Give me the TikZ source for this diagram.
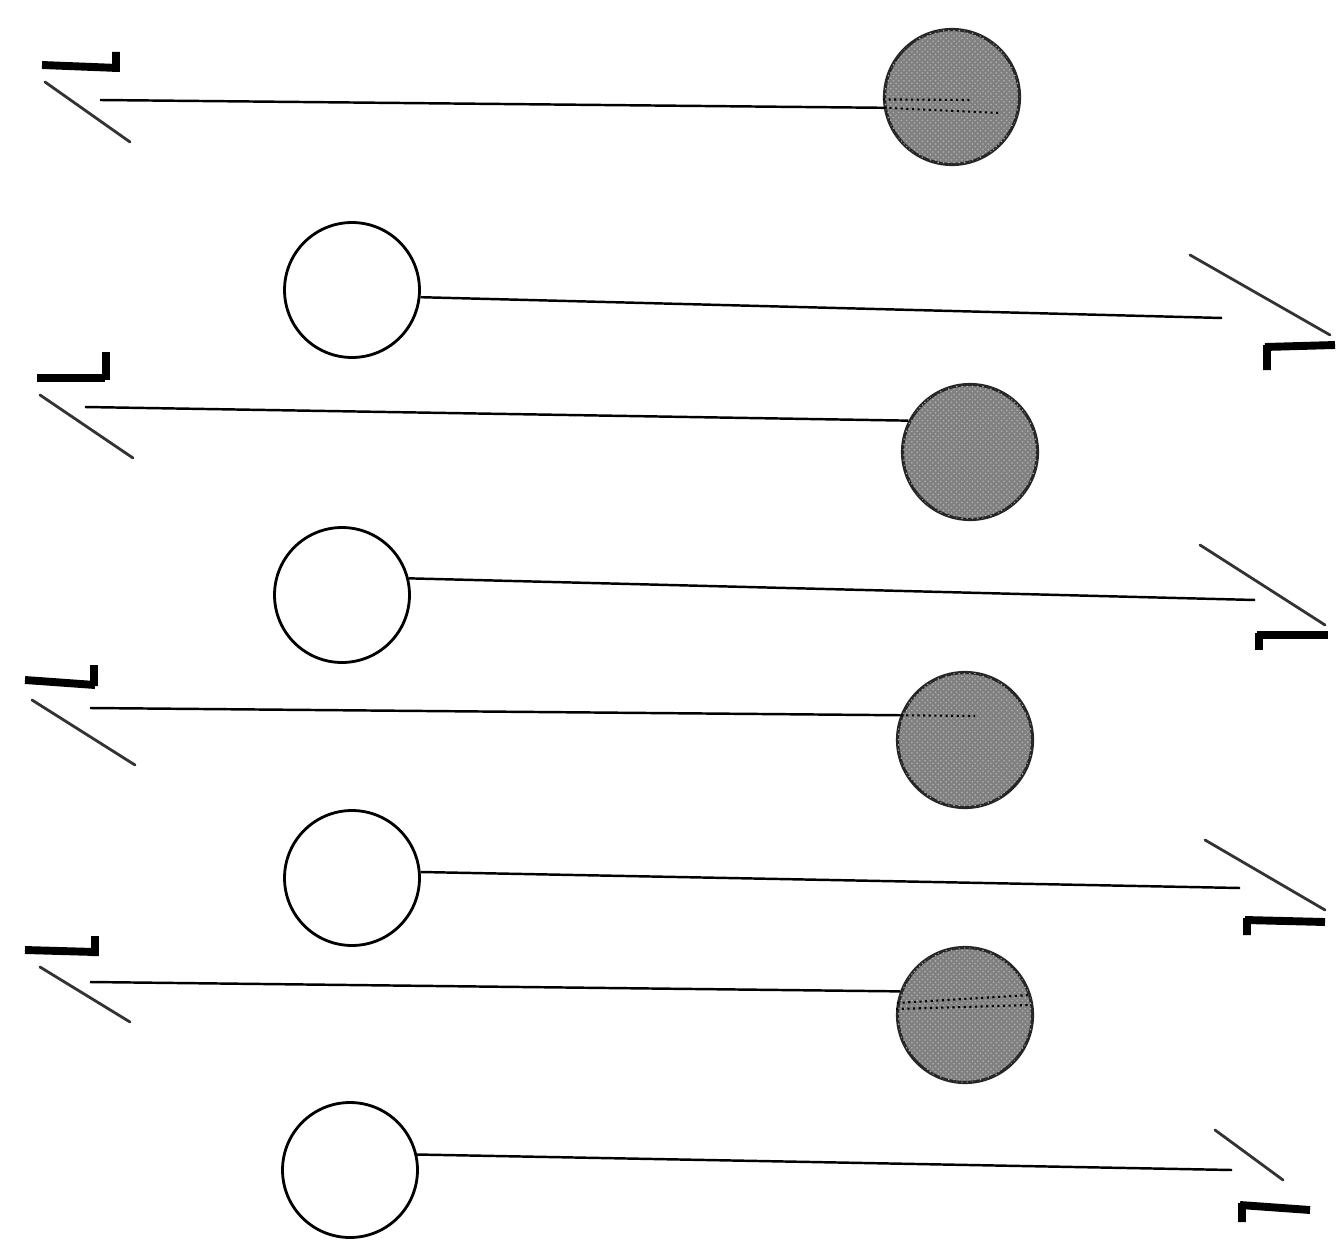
\documentclass[tikz,border=0pt]{standalone}
\usetikzlibrary{patterns}
\begin{document}
\begin{tikzpicture}[x=0.02cm,y=-0.02cm,
  openball/.style={circle,draw=black,line width=1.6pt,fill=white,minimum size=2.7cm,inner sep=0pt},
  fullball/.style={circle,draw=black!85,line width=1.8pt,fill=black!50,minimum size=2.7cm,inner sep=0pt,
    postaction={pattern=crosshatch dots,pattern color=white!70!black}},
  shaft/.style={line width=1.4pt,black},
  barb/.style={line width=1.6pt,black!80,line cap=round},
  stub/.style={line width=4.5pt,black},
  inner/.style={dotted,line width=1.2pt}]
\useasboundingbox (0,0) rectangle (1341,1243);

% filled balls (right side), arrows pointing left
\node[fullball] (f1) at (952,97) {};
\node[fullball] (f2) at (970,452) {};
\node[fullball] (f3) at (965,740) {};
\node[fullball] (f4) at (965,1015) {};
% open balls (left side), arrows pointing right
\node[openball] (o1) at (352,290) {};
\node[openball] (o2) at (342,595) {};
\node[openball] (o3) at (352,878) {};
\node[openball] (o4) at (350,1170) {};

% shaft ends
\coordinate (l1) at (100,100);
\coordinate (l2) at (85,407);
\coordinate (l3) at (90,708);
\coordinate (l4) at (90,982);
\coordinate (r1) at (1222,318);
\coordinate (r2) at (1255,600);
\coordinate (r3) at (1240,888);
\coordinate (r4) at (1232,1170);

\draw[shaft] (f1.189) -- (l1);
\draw[shaft] (f2.153) -- (l2);
\draw[shaft] (f3.159) -- (l3);
\draw[shaft] (f4.160) -- (l4);
\draw[shaft] (o1.354) -- (r1);
\draw[shaft] (o2.14) -- (r2);
\draw[shaft] (o3.5) -- (r3);
\draw[shaft] (o4.13) -- (r4);

% dotted lines inside filled balls
\draw[inner] (f1.182) -- (970,100);
\draw[inner] (f1.189) -- (1000,113);
\draw[inner] (f3.159) -- (975,716);
\draw[inner] (f4.170) -- (1030,995);
\draw[inner] (f4.175) -- (1030,1005);

% left arrowheads
\draw[stub] (42,65) -- (118,68) (116,52) -- (116,72);
\draw[barb] (45,82) -- (130,142);
\draw[stub] (37,378) -- (105,378) (106,352) -- (106,380);
\draw[barb] (40,395) -- (133,458);
\draw[stub] (25,680) -- (95,685) (94,665) -- (94,686);
\draw[barb] (32,700) -- (135,765);
\draw[stub] (25,950) -- (95,952) (95,936) -- (95,956);
\draw[barb] (40,967) -- (130,1022);

% right arrowheads
\draw[barb] (1190,255) -- (1330,335);
\draw[stub] (1265,347) -- (1335,345) (1267,345) -- (1267,370);
\draw[barb] (1200,545) -- (1325,625);
\draw[stub] (1257,635) -- (1328,635) (1259,633) -- (1259,650);
\draw[barb] (1205,840) -- (1325,910);
\draw[stub] (1245,920) -- (1325,922) (1247,918) -- (1247,935);
\draw[barb] (1215,1130) -- (1283,1180);
\draw[stub] (1240,1205) -- (1310,1210) (1242,1203) -- (1242,1222);
\end{tikzpicture}
\end{document}
